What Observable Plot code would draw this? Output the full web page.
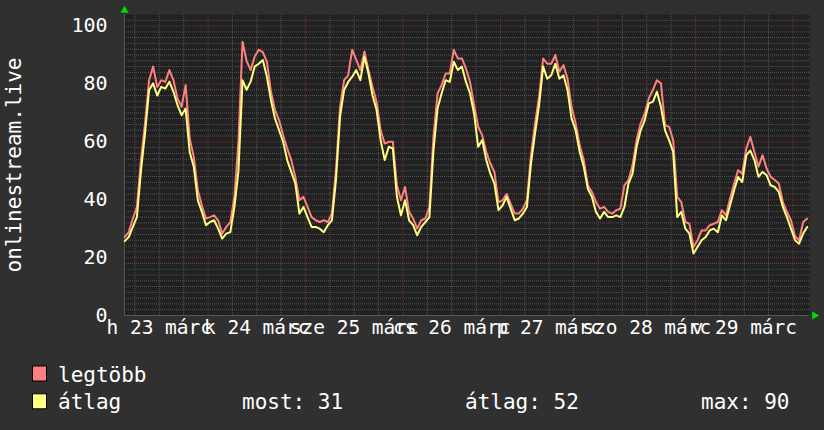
<!DOCTYPE html>
<html>
<head>
<meta charset="utf-8">
<script src="https://cdn.jsdelivr.net/npm/d3@7"></script>
<script src="https://cdn.jsdelivr.net/npm/@observablehq/plot@0.6"></script>
<style>
  html, body { margin: 0; padding: 0; background: #303030; }
  #wrap { width: 824px; height: 430px; background: #303030; overflow: hidden; }
  #wrap svg { display: block; }
</style>
</head>
<body>
<div id="wrap"></div>
<script>
// ---- data (hours since Mon 23 March 00:00, hourly samples starting 03:30) ----
const startHour = 3.5;
const xStart = 3.45, xEnd = 172.06;
const maxVals = [
27.1,28.8,33.5,37.5,53.7,66.4,81.3,86,79,81.3,80.7,84.8,81.3,75,72.1,79.6,61.2,54.8,43.3,38,33.5,34,34.6,32.9,28.3,30.6,32.3,41,
60,94.6,88,84.8,89.5,91.8,91,87.7,77.3,71,67.5,62.3,57.7,53.7,47.9,39.8,41,37.5,34,32.9,32.3,32.9,32.3,35.2,50.2,72,81.3,83,91.8,
88.3,84.8,91.2,84.8,79,73.8,64,59.4,60,60,45,39.8,44.4,35.8,33.5,30,32.9,33.5,37.5,61.7,76.7,79.6,83.6,83.6,91.8,88.8,88.8,85.3,
80.7,72.7,65.2,62.3,56.5,52.5,49.6,39.2,39.8,42,38.6,35.2,35.2,36.9,39.8,55.4,66.4,75.6,88.8,87,87,90,84.2,86.5,81.8,72,66.4,58.8,
53.7,45,42.7,39.2,36.9,37.5,35.8,35.2,36.4,36.9,45,46.8,51.9,60.6,66.4,69.8,75,77.9,81.3,80.2,65.8,65.2,60.6,41,39.2,32.3,31.7,23.7,
26,29.4,29.4,31.2,31.7,32.3,36.4,34.6,40.4,45.6,50.2,49,57.7,61.7,56.5,51.4,55.4,50.8,47.9,46.8,45.6,39.2,35.8,32.9,27.4,26,32.3,33.5
];
const avgVals = [
25.7,27.1,30.6,34,50,62.9,77.9,80.2,76,79,78.4,80.8,77.3,72.7,69.2,71.5,56.5,51.4,39.8,35.8,31.2,32.3,32.9,30,26.6,28.3,28.8,37.5,
50,81.3,78,80.8,86,87,88.3,82.5,74.4,68,64,60,53.7,49.6,45.6,35.2,37.5,34,30.6,30.6,30,28.8,31.2,32.9,46.8,68.7,77.9,80.7,82.5,
84.8,81.3,89.4,83.6,76,71,60.6,53.7,58.3,57.7,41,34.6,39.8,32.9,31.2,27.7,30.6,32.3,34,57,71.5,76.7,81.3,80.7,87.7,84.8,86,80.7,
76.7,69.8,58.3,60.6,53.7,49,45.6,36.4,38,41,36.9,32.9,33.5,35.2,37.5,52.5,62.9,72.7,86,81.8,83,87,81.8,83,77.9,68,64,56.5,
51.4,43.8,41,35.8,33.5,35.8,34,34,34.6,34,37.5,45.6,49,58.3,64,67.5,73.3,73.8,77.3,72,64,60.6,56.5,34,35.8,30,28.3,21.4,
23.7,26,27.1,29.4,30,28.8,34.6,32.9,38,43.3,47.9,46.1,55.4,57,53.7,47.9,49.6,48.5,45,44.4,42.7,37.5,34,30,26,24.8,28.3,30.6
];
const dayLabels = ["h 23 márc", "k 24 márc", "sze 25 márc", "cs 26 márc", "p 27 márc", "szo 28 márc", "v 29 márc"];
const yTicks = [0, 20, 40, 60, 80, 100];
const yTitle = "onlinestream.live";
const seriesNames = ["legtöbb", "átlag"];
const seriesColors = ["#ff8080", "#ffff80"];
const stats = ["most: 31", "átlag: 52", "max: 90"];

const data = maxVals.map((m, i) => ({h: startHour + i, max: m, avg: avgVals[i]}));
const noonTicks = dayLabels.map((_, i) => 12 + 24 * i);
const majorX = d3.range(24, xEnd, 24);
const minorX = d3.range(6, xEnd, 6).filter(d => d % 24 !== 0);
const majorY = yTicks.filter(d => d > 0);
const minorY = d3.range(2, 104, 2).filter(d => d % 20 !== 0);

const FONT = "DejaVu Sans Mono";

const chart = Plot.plot({
  width: 824,
  height: 345,
  marginLeft: 124,
  marginRight: 15,
  marginTop: 14,
  marginBottom: 30,
  style: {background: "transparent", color: "#ffffff", fontFamily: FONT, fontSize: "19.5px"},
  x: {domain: [xStart, xEnd]},
  y: {domain: [0, 104]},
  marks: [
    Plot.frame({fill: "#212121", stroke: null}),
    Plot.ruleY(minorY, {stroke: "#545454", strokeDasharray: "1,1", strokeWidth: 1}),
    Plot.ruleX(minorX, {stroke: "#545454", strokeDasharray: "1,1", strokeWidth: 1}),
    Plot.ruleY(majorY, {stroke: "#743030", strokeDasharray: "1,1", strokeWidth: 1}),
    Plot.ruleX(majorX, {stroke: "#743030", strokeDasharray: "1,1", strokeWidth: 1}),
    Plot.ruleY([0], {stroke: "#555555"}),
    Plot.ruleX([xStart], {stroke: "#555555"}),
    Plot.lineY(data, {x: "h", y: "max", stroke: seriesColors[0], strokeWidth: 2}),
    Plot.lineY(data, {x: "h", y: "avg", stroke: seriesColors[1], strokeWidth: 2}),
    Plot.axisY(yTicks, {tickSize: 0, tickPadding: 17, label: null, fontSize: 20, fill: "#ffffff"}),
    Plot.axisX(noonTicks, {tickSize: 0, tickPadding: 5, label: null, fontSize: 19.5, fill: "#ffffff",
      tickFormat: d => dayLabels[Math.round((d - 12) / 24)]}),
    Plot.text([yTitle], {frameAnchor: "left", dx: -110, rotate: -90, text: d => d,
      fontSize: 21, fill: "#ffffff", textAnchor: "middle", lineAnchor: "middle"}),
    Plot.dot([0], {x: xStart, y: 104, dy: -4, symbol: "triangle", r: 3, fill: "#00dd00", stroke: null}),
    Plot.dot([0], {x: xEnd, y: 0, dx: 5, symbol: "triangle", rotate: 90, r: 3, fill: "#00dd00", stroke: null})
  ]
});

const wrap = document.getElementById("wrap");
wrap.appendChild(chart);

// legend below the chart
const leg = d3.select(wrap).append("svg")
  .attr("width", 824).attr("height", 85)
  .style("font-family", FONT).style("font-size", "21px");
const rows = [{name: seriesNames[0], color: seriesColors[0], y: 36.5},
              {name: seriesNames[1], color: seriesColors[1], y: 64.3}];
rows.forEach(r => {
  leg.append("rect").attr("x", 32.5).attr("y", r.y - 15.5).attr("width", 14).attr("height", 15)
    .attr("fill", r.color).attr("stroke", "#000").attr("stroke-width", 1);
  leg.append("text").attr("x", 58).attr("y", r.y).attr("fill", "#fff").text(r.name);
});
const statX = [242, 465, 701];
stats.forEach((s, i) => {
  leg.append("text").attr("x", statX[i]).attr("y", rows[1].y).attr("fill", "#fff").text(s);
});
</script>
</body>
</html>
